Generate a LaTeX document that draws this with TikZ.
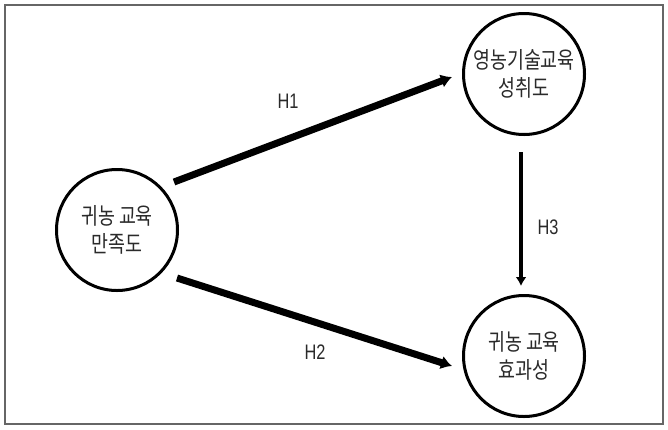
\documentclass[tikz,border=0pt]{standalone}
\usepackage{fontspec}
\setmainfont{Liberation Sans}
\newfontfamily\kofont[FakeStretch=0.8]{Noto Sans CJK KR}
\newfontfamily\hfont[FakeStretch=0.78]{Liberation Sans}
\usetikzlibrary{arrows.meta}
\definecolor{framegray}{HTML}{666666}
\definecolor{labelgray}{HTML}{2A2A2A}

\begin{document}
\begin{tikzpicture}[x=1pt,y=-1pt,
  construct/.style={circle,draw,line width=3pt,minimum size=121pt,inner sep=0pt,
    align=center,text=labelgray,font=\kofont\fontsize{23}{28}\selectfont},
  hypo/.style={line width=7pt,-{Latex[length=11pt,width=14pt]}},
  hlabel/.style={text=labelgray,font=\hfont\fontsize{21}{24}\selectfont}]
  \useasboundingbox (0,0) rectangle (668,429);
  \draw[framegray,line width=1.5pt] (5,5) rectangle (663,424);
  % constructs
  \node[construct] (sat) at (117,230) {귀농 교육\\만족도};
  \node[construct] (ach) at (524,74) {영농기술교육\\성취도};
  \node[construct] (eff) at (524,356) {귀농 교육\\효과성};
  % hypotheses
  \draw[hypo] ([shift={(-5pt,48pt)}]sat.east) -- ([shift={(-10pt,-3pt)}]ach.west);
  \draw[hypo] ([shift={(-2pt,-48pt)}]sat.east) -- ([shift={(-10pt,-10pt)}]eff.west);
  \draw[line width=4pt,-{Latex[length=9pt,width=11pt]}] ([shift={(-3pt,-16pt)}]ach.south) -- ([shift={(-3pt,8pt)}]eff.north);
  \node[hlabel] (h1) at (288,101) {H1};
  \node[hlabel] (h2) at (315,352) {H2};
  \node[hlabel] (h3) at (548,227) {H3};
\end{tikzpicture}
\end{document}
